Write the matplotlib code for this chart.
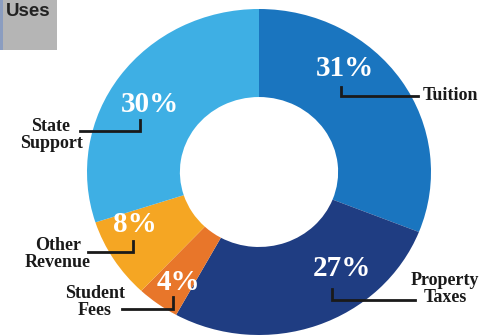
import matplotlib.pyplot as plt
from matplotlib.patches import Rectangle

# revenue sources, clockwise from 12 o'clock
categories = ["Tuition", "Property\nTaxes", "Student\nFees", "Other\nRevenue", "State\nSupport"]
shares = [31, 27, 4, 8, 30]
colors = ["#1a75bf", "#1f3d82", "#e8762a", "#f5a623", "#3eafe4"]

# where each percent and each name goes (pixel coords, y down)
pct_pos = [(345, 68), (342, 269), (178, 283), (135, 225), (150, 104)]
name_pos = [(423, 95), (445, 289), (95, 302), (58, 254), (51, 135)]
name_ha = ["left", "center", "center", "center", "center"]
leaders = [
    [(341, 87), (341, 96), (418, 96)],
    [(332, 289), (332, 300), (415, 300)],
    [(173, 297), (173, 309), (122, 309)],
    [(133, 241), (133, 252), (88, 252)],
    [(140, 120), (140, 131), (80, 131)],
]

W, H = 490, 336
fig = plt.figure(figsize=(W / 100, H / 100), dpi=100)

# donut sits in its own axes so it fills the box exactly
left, right, top, bottom = 87, 431, 9, 335
pax = fig.add_axes([left / W, 1 - bottom / H, (right - left) / W, (bottom - top) / H])
pax.pie(shares, colors=colors, startangle=90, counterclock=False,
        radius=1, wedgeprops=dict(width=0.54, linewidth=0))
pax.set_xlim(-1, 1)
pax.set_ylim(-1, 1)
pax.set_aspect("auto")
pax.axis("off")

# overlay for text and leader lines
ax = fig.add_axes([0, 0, 1, 1])
ax.set_xlim(0, W)
ax.set_ylim(H, 0)
ax.axis("off")
ax.patch.set_alpha(0)

serif = ["Liberation Serif", "DejaVu Serif"]
for v, (px, py) in zip(shares, pct_pos):
    ax.text(px, py, f"{v}%", color="white", fontsize=21, fontweight="bold",
            family=serif, ha="center", va="center")

for name, (nx, ny), ha, pts in zip(categories, name_pos, name_ha, leaders):
    ax.text(nx, ny, name, color="#1a1a1a", fontsize=13, fontweight="bold",
            family=serif, ha=ha, va="center", multialignment="center",
            linespacing=0.95)
    xs, ys = zip(*pts)
    ax.plot(xs, ys, color="#1a1a1a", lw=2, solid_joinstyle="miter")

# "Uses" tab in the corner
ax.add_patch(Rectangle((0, 0), 57, 50, color="#b5b5b5", lw=0))
ax.add_patch(Rectangle((0, 0), 3, 50, color="#8b9dc0", lw=0))
ax.text(6, 12, "Uses", color="#222222", fontsize=13.5, fontweight="bold",
        family=["Liberation Sans", "DejaVu Sans"], ha="left", va="center")

fig.savefig("out.png", dpi=100)
